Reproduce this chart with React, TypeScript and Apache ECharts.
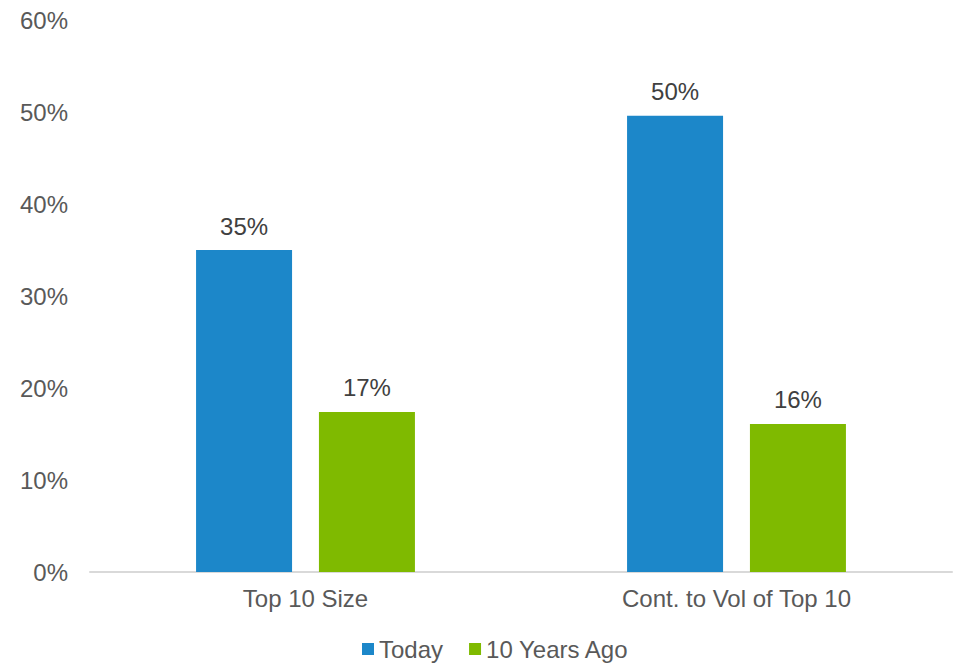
import React, { useEffect, useRef } from "react";
import * as echarts from "echarts";

const categories = ["Top 10 Size", "Cont. to Vol of Top 10"];
const todayValues = [35.0, 49.6];
const tenYearsAgoValues = [17.4, 16.1];
const yTicks = [0, 10, 20, 30, 40, 50, 60];

const FONT = "'Liberation Sans', Arial, sans-serif";

export default function App() {
  const ref = useRef<HTMLDivElement>(null);
  useEffect(() => {
    if (!ref.current) return;
    const chart = echarts.init(ref.current, undefined, { renderer: "svg" });
    const label = {
      show: true,
      position: "top" as const,
      distance: 12,
      color: "#404040",
      fontSize: 24,
      fontFamily: FONT,
      formatter: (p: any) => Math.round(p.value) + "%",
    };
    chart.setOption({
      animation: false,
      textStyle: { fontFamily: FONT },
      grid: { left: 90, right: 5, top: 20, bottom: 92, containLabel: false },
      legend: {
        bottom: -2,
        left: 357,
        itemWidth: 12,
        itemHeight: 12,
        itemGap: 26,
        icon: "rect",
        textStyle: { color: "#595959", fontSize: 24, fontFamily: FONT },
        data: ["Today", "10 Years Ago"],
      },
      xAxis: {
        type: "category",
        data: categories,
        axisLine: { lineStyle: { color: "#d9d9d9", width: 2 } },
        axisTick: { show: false },
        axisLabel: { color: "#595959", fontSize: 24, fontFamily: FONT, margin: 14 },
      },
      yAxis: {
        type: "value",
        min: yTicks[0],
        max: yTicks[yTicks.length - 1],
        interval: 10,
        splitLine: { show: false },
        axisLine: { show: false },
        axisTick: { show: false },
        axisLabel: {
          color: "#595959",
          fontSize: 24,
          fontFamily: FONT,
          margin: 22,
          formatter: (v: number) => v + "%",
        },
      },
      series: [
        {
          name: "Today",
          type: "bar",
          data: todayValues,
          barWidth: 96,
          barGap: "28%",
          itemStyle: { color: "#1c87c9" },
          label,
        },
        {
          name: "10 Years Ago",
          type: "bar",
          data: tenYearsAgoValues,
          barWidth: 96,
          itemStyle: { color: "#7fba00" },
          label,
        },
      ],
    });
    return () => chart.dispose();
  }, []);
  return (
    <div
      ref={ref}
      style={{ position: "absolute", left: 0, top: 0, width: 957, height: 664, background: "#fff" }}
    />
  );
}
